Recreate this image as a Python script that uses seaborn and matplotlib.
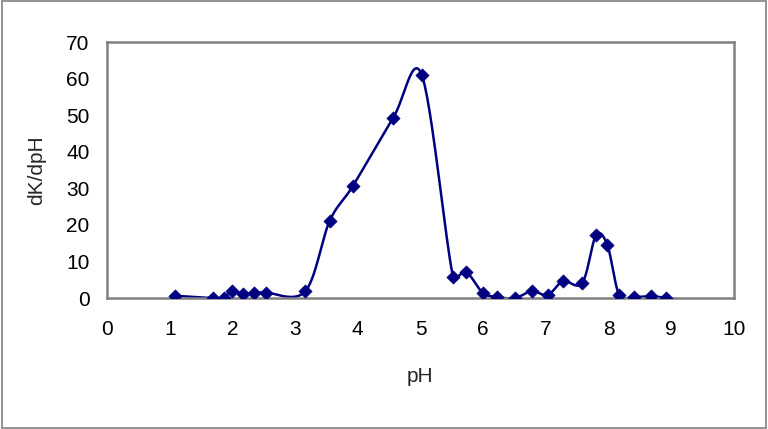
import numpy as np
import pandas as pd
import matplotlib
matplotlib.use("Agg")
import matplotlib.pyplot as plt
from matplotlib.patches import Rectangle
import seaborn as sns

# values
ph = [1.09, 1.69, 1.86, 2.00, 2.17, 2.34, 2.53, 3.16, 3.55, 3.92, 4.56, 5.02,
      5.52, 5.73, 5.99, 6.22, 6.51, 6.78, 7.03, 7.27, 7.58, 7.80, 7.98, 8.17,
      8.41, 8.68, 8.92]
dk_dph = [0.6, 0.0, 0.0, 2.0, 1.1, 1.5, 1.5, 1.8, 21.0, 30.6, 49.1, 61.0,
          5.7, 7.1, 1.5, 0.3, 0.0, 1.9, 0.8, 4.6, 4.1, 17.2, 14.5, 0.8,
          0.3, 0.5, 0.0]
x_ticks = list(range(0, 11))
y_ticks = list(range(0, 71, 10))

navy = "#000080"
gray = "#808080"

# pixels per data unit, used only to keep the smoothing from overshooting
sx_px, sy_px = 62.75, 3.657


def smooth(x, y, n=30, limit=0.5):
    # Excel-like bezier smoothing through the points
    p = np.column_stack([np.asarray(x) * sx_px, np.asarray(y) * sy_px])
    pts = np.vstack([p[0], p, p[-1]])
    out = []
    t = np.linspace(0, 1, n)[:, None]
    for i in range(1, len(pts) - 2):
        p0, p1, p2, p3 = pts[i - 1], pts[i], pts[i + 1], pts[i + 2]
        seg_len = np.hypot(*(p2 - p1))
        d1 = (p2 - p0) / 6
        d2 = (p3 - p1) / 6
        for d in (d1, d2):
            L = np.hypot(*d)
            if L > limit * seg_len:
                d *= limit * seg_len / L
        c1 = p1 + d1
        c2 = p2 - d2
        seg = ((1 - t) ** 3) * p1 + 3 * ((1 - t) ** 2) * t * c1 \
            + 3 * (1 - t) * t ** 2 * c2 + t ** 3 * p2
        out.append(seg if i == 1 else seg[1:])
    out = np.vstack(out)
    return out[:, 0] / sx_px, out[:, 1] / sy_px


sns.set_style("white")
plt.rcParams["font.family"] = ["Liberation Sans", "DejaVu Sans"]

fig = plt.figure(figsize=(7.68, 4.29), dpi=100)
ax = fig.add_axes([107 / 768, 1 - 298 / 429, (734 - 107) / 768, (298 - 42) / 429])

cx, cy = smooth(ph, dk_dph)
curve = pd.DataFrame({"pH": cx, "dK/dpH": cy})
points = pd.DataFrame({"pH": ph, "dK/dpH": dk_dph})

sns.lineplot(data=curve, x="pH", y="dK/dpH", sort=False, color=navy,
             linewidth=1.8, ax=ax)
sns.scatterplot(data=points, x="pH", y="dK/dpH", marker="D", s=45,
                color=navy, edgecolor=navy, linewidth=0.5, zorder=3, ax=ax)

ax.set_xlim(0, 10)
ax.set_ylim(0, 70)
ax.set_xticks(x_ticks)
ax.set_yticks(y_ticks)
ax.tick_params(axis="both", labelsize=15, length=4.5, width=1.2, color=gray,
               direction="out", labelcolor="black")
ax.tick_params(axis="x", pad=11)
ax.tick_params(axis="y", pad=8)
for s in ax.spines.values():
    s.set_color(gray)
    s.set_linewidth(1.8)

ax.set_xlabel("pH", fontsize=15)
ax.set_ylabel("dK/dpH", fontsize=15)
ax.xaxis.label.set_va("center")
ax.yaxis.label.set_va("center")
ax.xaxis.set_label_coords(0.5, (298 - 377) / -256 * -1)
ax.yaxis.set_label_coords((37 - 107) / 627, 0.5)

fig.patches.append(Rectangle((0.002, 0.002), 0.996, 0.996, transform=fig.transFigure,
                             fill=False, edgecolor=gray, linewidth=1.2))

fig.savefig("out.png", dpi=100)
